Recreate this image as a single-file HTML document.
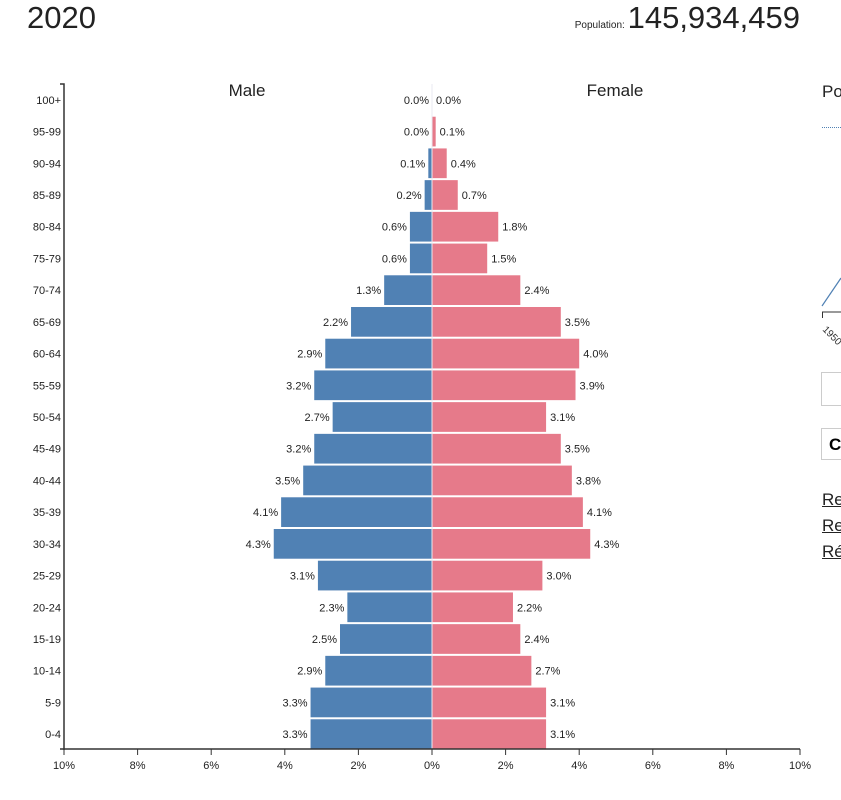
<!DOCTYPE html>
<html><head><meta charset="utf-8"><style>
body{margin:0;width:841px;height:800px;overflow:hidden;background:#fff;font-family:"Liberation Sans",sans-serif;position:relative}
.abs{position:absolute}
</style></head><body>
<div class="abs" style="left:27px;top:0px;font-size:31px;color:#222">2020</div>
<div class="abs" style="right:41px;top:0px;font-size:31px;color:#222;white-space:nowrap"><span style="font-size:10px">Population: </span>145,934,459</div>
<svg class="abs" style="left:0;top:0" width="841" height="800" id="chart">
<text x="247" y="96" font-size="17" text-anchor="middle" fill="#222">Male</text>
<text x="615" y="96" font-size="17" text-anchor="middle" fill="#222">Female</text>
</svg>
<div class="abs" style="left:822px;top:82px;font-size:17px;color:#222">Po</div>
<div class="abs" style="left:822px;top:127px;width:19px;border-top:1px dotted #5081b4"></div>
<svg class="abs" style="left:818px;top:270px" width="23" height="80">
<line x1="4" y1="36" x2="23" y2="8" stroke="#5081b4" stroke-width="1.2"/>
<path d="M4.5,48 V42 H23" fill="none" stroke="#333"/>
<text x="4" y="60" font-size="10" fill="#333" transform="rotate(45 4 60)">1950</text>
</svg>
<div class="abs" style="left:821px;top:372px;width:30px;height:32px;border:1px solid #ccc"></div>
<div class="abs" style="left:821px;top:428px;width:30px;height:32px;border:1px solid #ccc;font-weight:bold;font-size:17px;line-height:32px;padding-left:7px;box-sizing:border-box">C</div>
<div class="abs" style="left:822px;top:490px;font-size:17px;text-decoration:underline;color:#222">Re</div>
<div class="abs" style="left:822px;top:516px;font-size:17px;text-decoration:underline;color:#222">Re</div>
<div class="abs" style="left:822px;top:542px;font-size:17px;text-decoration:underline;color:#222">Ré</div>
<script>
const ageGroups=["100+","95-99","90-94","85-89","80-84","75-79","70-74","65-69","60-64","55-59","50-54","45-49","40-44","35-39","30-34","25-29","20-24","15-19","10-14","5-9","0-4"];
const maleValues=[0.0,0.0,0.1,0.2,0.6,0.6,1.3,2.2,2.9,3.2,2.7,3.2,3.5,4.1,4.3,3.1,2.3,2.5,2.9,3.3,3.3];
const femaleValues=[0.0,0.1,0.4,0.7,1.8,1.5,2.4,3.5,4.0,3.9,3.1,3.5,3.8,4.1,4.3,3.0,2.2,2.4,2.7,3.1,3.1];
const tickValues=[-10,-8,-6,-4,-2,0,2,4,6,8,10];
const svg=document.getElementById('chart');
const NS='http://www.w3.org/2000/svg';
const cx=432,axLeft=64,axRight=800,axTop=84,axBottom=750;
function xs(v){return cx+v*(axRight-cx)/10;}
const band=(axBottom-axTop)/ageGroups.length;
function ys(i){return axTop+i*band;}
function mk(t,a,txt){const e=document.createElementNS(NS,t);for(const k in a)e.setAttribute(k,a[k]);if(txt!==undefined)e.textContent=txt;svg.appendChild(e);return e;}
ageGroups.forEach((g,i)=>{
 const y=ys(i);
 let m=mk('rect',{x:xs(-maleValues[i]),y:y+1,width:xs(0)-xs(-maleValues[i]),height:band-2,fill:'#5081b4'});
 
 
 let f=mk('rect',{x:xs(0),y:y+1,width:xs(femaleValues[i])-xs(0),height:band-2,fill:'#e67a8a'});
 
 
 let ml=mk('text',{x:xs(-maleValues[i])-3,y:y+band/2+4,'font-size':11,'text-anchor':'end',fill:'#222'},maleValues[i].toFixed(1)+'%');
 
 
 let fl=mk('text',{x:xs(femaleValues[i])+4,y:y+band/2+4,'font-size':11,fill:'#222'},femaleValues[i].toFixed(1)+'%');
 
 
 let al=mk('text',{x:axLeft-3,y:y+band/2+4,'font-size':11,'text-anchor':'end',fill:'#222'},g);
 
 
});
mk('line',{x1:cx,x2:cx,y1:axTop,y2:axBottom,stroke:'#e8e8f0'});
let ya=mk('path',{d:`M${axLeft-4},${axTop}H${axLeft}V${axBottom}`,fill:'none',stroke:'#333','stroke-width':1.5});


let xa=mk('line',{x1:axLeft-4,x2:axRight,y1:axBottom-1,y2:axBottom-1,stroke:'#333','stroke-width':1.5});


tickValues.forEach(v=>{
 mk('line',{x1:xs(v),x2:xs(v),y1:axBottom-1,y2:axBottom+5,stroke:'#333'});
 let t=mk('text',{x:xs(v),y:axBottom+19,'font-size':11,'text-anchor':'middle',fill:'#222'},Math.abs(v)+'%');
 
 
});
</script>
</body></html>
